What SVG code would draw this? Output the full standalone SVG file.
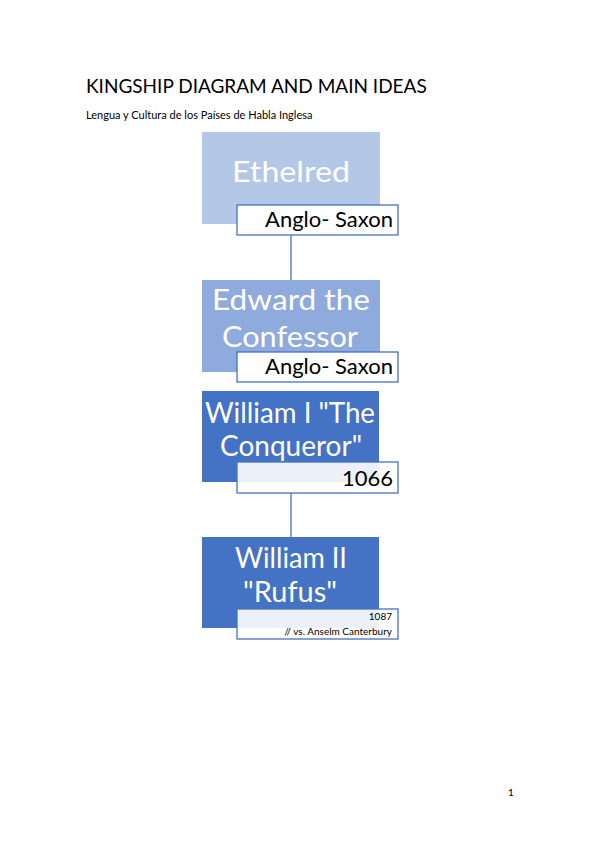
<svg xmlns="http://www.w3.org/2000/svg" width="599" height="848" viewBox="0 0 599 848">
<style>
.t{font-family:Lato,"Liberation Sans",sans-serif;}
.main{font-family:Lato,"Liberation Sans",sans-serif;font-size:28px;fill:#ffffff;text-anchor:middle;}
.lab{fill:#ffffff;stroke:#4472c4;stroke-width:1.3;}
.lab2{fill:#ffffff;fill-opacity:0.9;stroke:#4472c4;stroke-width:1.3;}
.lt{font-family:Lato,"Liberation Sans",sans-serif;font-size:22px;fill:#000000;text-anchor:end;}
.st{font-family:Lato,"Liberation Sans",sans-serif;font-size:10px;fill:#000000;text-anchor:end;}
.con{stroke:#4472c4;stroke-width:1.3;fill:none;}
</style>
<rect width="599" height="848" fill="#ffffff"/>
<text class="t" x="86" y="93" font-size="19" fill="#000">KINGSHIP DIAGRAM AND MAIN IDEAS</text>
<text class="t" x="86" y="119" font-size="11" fill="#000">Lengua y Cultura de los Países de Habla Inglesa</text>
<g id="connectors">
<line class="con" x1="291" y1="235" x2="291" y2="280"/>
<line class="con" x1="291" y1="493" x2="291" y2="537"/>
</g>
<g id="ethelred">
<rect x="202" y="132" width="178" height="92" fill="#b4c7e7"/>
<text class="main" x="291" y="182" textLength="118" lengthAdjust="spacingAndGlyphs">Ethelred</text>
<rect class="lab" x="237" y="205" width="161" height="30"/>
<text class="lt" x="393" y="227">Anglo- Saxon</text>
</g>
<g id="edward">
<rect x="202" y="280" width="178" height="92" fill="#8faadc"/>
<text class="main" x="291" y="310" textLength="158" lengthAdjust="spacingAndGlyphs">Edward the</text>
<text class="main" x="290" y="347" textLength="136" lengthAdjust="spacingAndGlyphs">Confessor</text>
<rect class="lab" x="237" y="352" width="161" height="30"/>
<text class="lt" x="393" y="374">Anglo- Saxon</text>
</g>
<g id="william1">
<rect x="202" y="391" width="177" height="91" fill="#4472c4"/>
<text class="main" x="290" y="423" textLength="170" lengthAdjust="spacingAndGlyphs">William I "The</text>
<text class="main" x="291" y="456" textLength="142" lengthAdjust="spacingAndGlyphs">Conqueror"</text>
<rect class="lab2" x="237" y="462" width="161" height="31"/>
<text class="lt" x="393" y="486">1066</text>
</g>
<g id="william2">
<rect x="202" y="537" width="177" height="91" fill="#4472c4"/>
<text class="main" x="291" y="568" textLength="112" lengthAdjust="spacingAndGlyphs">William II</text>
<text class="main" x="290" y="602" textLength="94" lengthAdjust="spacingAndGlyphs">"Rufus"</text>
<rect class="lab2" x="237" y="609" width="161" height="30"/>
<text class="st" x="392" y="620">1087</text>
<text class="st" x="392" y="635">// vs. Anselm Canterbury</text>
</g>
<text class="t" x="511" y="796" font-size="10" fill="#000" text-anchor="middle">1</text>
</svg>
